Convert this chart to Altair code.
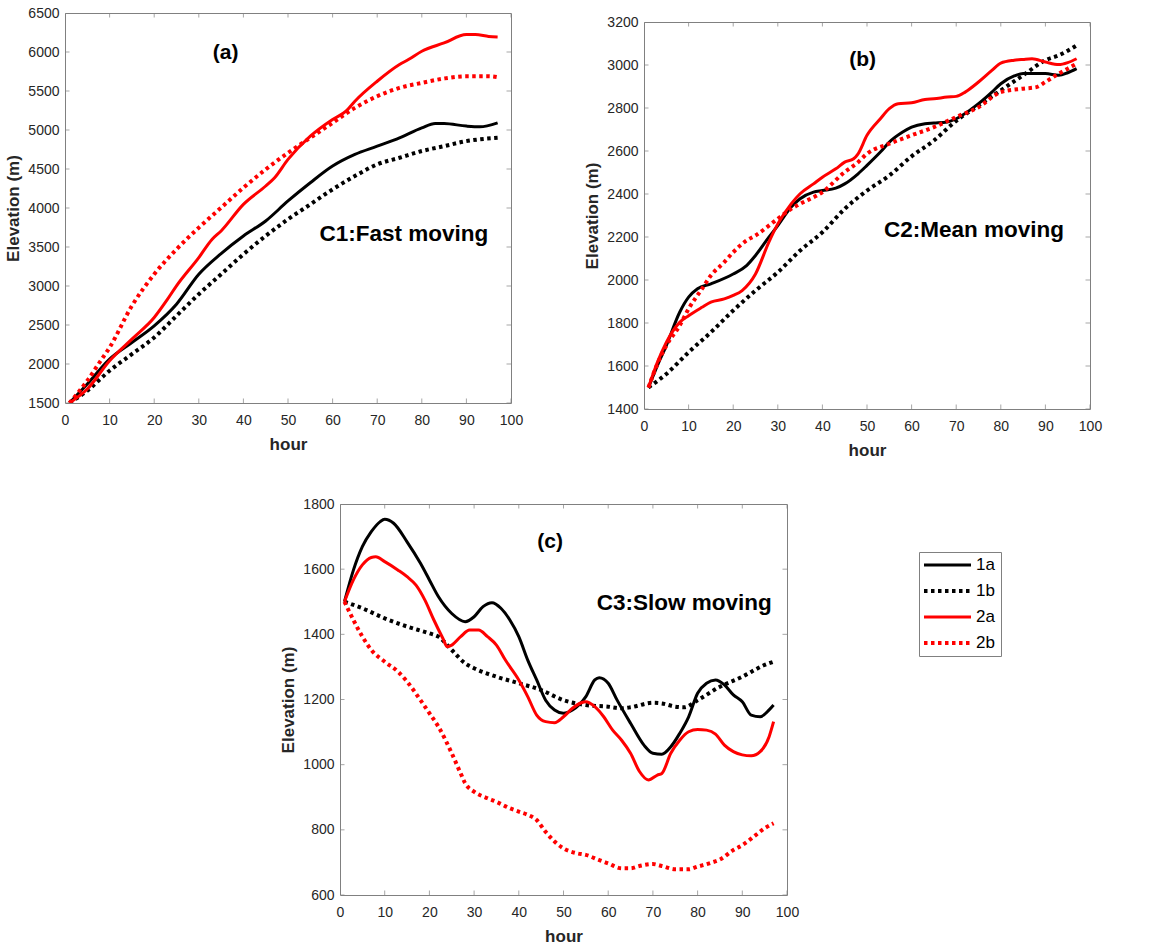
import altair as alt
import pandas as pd

# ---------------- data ----------------
SERIES = ["1a", "1b", "2a", "2b"]
COLORS = ["#000000", "#000000", "#ff0000", "#ff0000"]

# panel (a) C1: Fast moving
a1a_h = [1, 5, 10, 15, 20, 25, 30, 35, 40, 45, 50, 55, 60, 65, 70, 75, 80, 83, 85, 90, 93, 97]
a1a_e = [1500, 1743, 2063, 2276, 2490, 2767, 3151, 3416, 3642, 3834, 4090, 4324, 4538, 4687, 4793, 4900, 5028, 5084, 5083, 5050, 5041, 5092]
a1b_h = [1, 5, 10, 15, 20, 25, 30, 35, 40, 45, 50, 55, 60, 65, 70, 75, 80, 85, 90, 97]
a1b_e = [1500, 1658, 1914, 2127, 2340, 2618, 2895, 3151, 3407, 3642, 3855, 4047, 4239, 4410, 4559, 4644, 4730, 4793, 4857, 4900]
a2a_h = [1, 5, 10, 15, 20, 23, 25, 30, 33, 35, 40, 45, 47, 50, 55, 60, 63, 65, 70, 75, 77, 80, 85, 90, 92, 95, 97]
a2a_e = [1500, 1679, 2042, 2319, 2596, 2831, 3002, 3364, 3599, 3706, 4047, 4282, 4388, 4623, 4921, 5135, 5241, 5369, 5625, 5839, 5903, 6010, 6116, 6223, 6223, 6200, 6193]
a2b_h = [1, 5, 8, 10, 15, 20, 25, 30, 35, 40, 45, 50, 55, 60, 65, 70, 75, 80, 85, 90, 95, 97]
a2b_e = [1500, 1786, 2042, 2212, 2746, 3151, 3471, 3748, 4004, 4260, 4495, 4708, 4900, 5092, 5284, 5433, 5540, 5604, 5660, 5689, 5689, 5677]

# panel (b) C2: Mean moving
b1a_h = [1, 3, 5, 8, 10, 12, 15, 20, 23, 25, 28, 30, 33, 35, 38, 40, 43, 45, 48, 50, 53, 55, 58, 60, 63, 65, 68, 70, 73, 75, 78, 80, 83, 85, 88, 90, 93, 95, 97]
b1a_e = [1500, 1602, 1695, 1850, 1920, 1959, 1982, 2028, 2067, 2114, 2199, 2253, 2339, 2378, 2409, 2416, 2427, 2447, 2494, 2533, 2595, 2641, 2688, 2711, 2727, 2730, 2735, 2750, 2789, 2820, 2874, 2913, 2949, 2960, 2960, 2960, 2952, 2964, 2983]
b1b_h = [1, 5, 10, 15, 20, 25, 30, 35, 40, 45, 50, 55, 60, 65, 70, 75, 80, 85, 90, 93, 97]
b1b_e = [1500, 1563, 1664, 1757, 1858, 1951, 2036, 2137, 2222, 2331, 2416, 2486, 2575, 2649, 2740, 2812, 2882, 2952, 3022, 3045, 3091]
b2a_h = [1, 3, 5, 8, 10, 13, 15, 18, 20, 22, 25, 28, 30, 33, 35, 38, 40, 43, 45, 47, 48, 50, 53, 55, 57, 60, 63, 65, 68, 70, 72, 75, 78, 80, 83, 85, 87, 90, 93, 95, 97]
b2a_e = [1500, 1617, 1710, 1803, 1834, 1873, 1897, 1912, 1928, 1951, 2028, 2176, 2261, 2354, 2401, 2447, 2478, 2517, 2548, 2564, 2587, 2673, 2750, 2797, 2820, 2824, 2840, 2843, 2851, 2854, 2874, 2921, 2975, 3009, 3022, 3026, 3029, 3014, 3002, 3011, 3029]
b2b_h = [1, 3, 5, 8, 10, 13, 15, 18, 20, 23, 25, 28, 30, 33, 35, 40, 45, 48, 50, 55, 60, 65, 70, 75, 80, 85, 88, 90, 93, 95, 97]
b2b_e = [1500, 1610, 1695, 1788, 1866, 1959, 2021, 2083, 2129, 2184, 2207, 2253, 2285, 2331, 2354, 2409, 2502, 2548, 2587, 2634, 2673, 2711, 2758, 2804, 2874, 2890, 2897, 2921, 2960, 2983, 3006]

# panel (c) C3: Slow moving
c1a_h = [1, 3, 5, 7, 9, 10, 12, 15, 18, 20, 22, 25, 28, 30, 32, 34, 36, 38, 40, 42, 44, 46, 48, 50, 52, 55, 57, 58, 60, 62, 65, 68, 70, 72, 74, 76, 78, 80, 82, 84, 86, 88, 90, 92, 94, 96, 97]
c1a_e = [1500, 1597, 1669, 1715, 1746, 1753, 1741, 1684, 1618, 1567, 1516, 1464, 1439, 1454, 1485, 1497, 1480, 1444, 1393, 1321, 1260, 1198, 1168, 1158, 1168, 1209, 1260, 1267, 1250, 1198, 1127, 1060, 1035, 1032, 1055, 1096, 1147, 1219, 1250, 1260, 1245, 1214, 1193, 1152, 1147, 1168, 1183]
c1b_h = [1, 5, 10, 15, 20, 22, 25, 28, 30, 35, 40, 45, 50, 55, 60, 63, 65, 70, 72, 75, 77, 80, 85, 90, 95, 97]
c1b_e = [1500, 1480, 1449, 1424, 1403, 1393, 1352, 1311, 1296, 1270, 1250, 1229, 1198, 1183, 1178, 1173, 1176, 1190, 1188, 1178, 1176, 1198, 1239, 1270, 1306, 1316]
c2a_h = [1, 3, 5, 7, 8, 10, 13, 15, 17, 19, 21, 23, 24, 25, 27, 29, 31, 33, 35, 37, 40, 42, 44, 46, 48, 50, 52, 54, 55, 57, 59, 61, 63, 65, 67, 69, 71, 72, 74, 76, 78, 80, 82, 84, 86, 88, 90, 92, 94, 96, 97]
c2a_e = [1500, 1567, 1613, 1636, 1638, 1623, 1597, 1577, 1551, 1505, 1444, 1388, 1362, 1367, 1393, 1413, 1413, 1393, 1367, 1321, 1260, 1209, 1152, 1132, 1129, 1147, 1173, 1190, 1193, 1178, 1147, 1106, 1075, 1035, 979, 953, 968, 973, 1035, 1075, 1101, 1108, 1106, 1094, 1060, 1040, 1030, 1027, 1040, 1086, 1132]
c2b_h = [1, 3, 5, 7, 10, 13, 15, 18, 20, 22, 25, 27, 28, 30, 33, 35, 38, 40, 42, 44, 46, 48, 50, 53, 55, 58, 60, 63, 65, 67, 70, 72, 75, 78, 80, 83, 85, 88, 90, 93, 95, 97]
c2b_e = [1500, 1444, 1393, 1352, 1316, 1285, 1255, 1198, 1158, 1117, 1035, 973, 943, 917, 897, 886, 866, 856, 846, 830, 794, 764, 743, 728, 723, 707, 697, 682, 682, 689, 695, 689, 679, 679, 687, 699, 709, 738, 753, 784, 805, 820]

x_ticks = [0, 10, 20, 30, 40, 50, 60, 70, 80, 90, 100]
a_yticks = [1500, 2000, 2500, 3000, 3500, 4000, 4500, 5000, 5500, 6000, 6500]
b_yticks = [1400, 1600, 1800, 2000, 2200, 2400, 2600, 2800, 3000, 3200]
c_yticks = [600, 800, 1000, 1200, 1400, 1600, 1800]

# ---------------- styling ----------------
FONT = "Liberation Sans"
FRAME = "#808080"
TXT = "#262626"


def long_df(pairs):
    rows = []
    for name, (hs, es) in zip(SERIES, pairs):
        for h, e in zip(hs, es):
            rows.append({"series": name, "hour": h, "elev": e})
    return pd.DataFrame(rows)


def panel(df, yticks, label, label_pos, note, note_pos, w, h):
    ymin, ymax = yticks[0], yticks[-1]
    xs = alt.Scale(domain=[0, 100], nice=False, zero=False)
    ys = alt.Scale(domain=[ymin, ymax], nice=False, zero=False)
    color = alt.Color("series:N", scale=alt.Scale(domain=SERIES, range=COLORS), legend=None)
    xenc = alt.X("hour:Q", scale=xs,
                 axis=alt.Axis(values=x_ticks, format="d", title="hour", labelPadding=10, titlePadding=9))
    yenc = alt.Y("elev:Q", scale=ys,
                 axis=alt.Axis(values=yticks, format="d", title="Elevation (m)", labelPadding=6, titlePadding=5))
    layers = []
    for s in SERIES:
        dotted = s.endswith("b")
        m = alt.Chart(df).transform_filter(alt.datum.series == s)
        if dotted:
            m = m.mark_line(strokeWidth=4, strokeDash=[3.5, 3.5], strokeCap="butt",
                            interpolate="monotone", clip=True)
        else:
            m = m.mark_line(strokeWidth=3, interpolate="monotone", clip=True)
        layers.append(m.encode(x=xenc, y=yenc, color=color))

    # inward ticks on all four sides (half of each tick is clipped by the frame)
    n_x, n_y = len(x_ticks), len(yticks)
    xt_lo = pd.DataFrame({"hour": x_ticks, "elev": [ymin] * n_x})
    xt_hi = pd.DataFrame({"hour": x_ticks, "elev": [ymax] * n_x})
    yt_lo = pd.DataFrame({"hour": [0] * n_y, "elev": yticks})
    yt_hi = pd.DataFrame({"hour": [100] * n_y, "elev": yticks})
    for d in (xt_lo, xt_hi):
        layers.append(alt.Chart(d).mark_tick(orient="vertical", size=9, thickness=1, color=FRAME, clip=True)
                      .encode(x=xenc, y=yenc))
    for d in (yt_lo, yt_hi):
        layers.append(alt.Chart(d).mark_tick(orient="horizontal", size=9, thickness=1, color=FRAME, clip=True)
                      .encode(x=xenc, y=yenc))

    ann = pd.DataFrame({"t": [label, note],
                        "hour": [label_pos[0], note_pos[0]],
                        "elev": [label_pos[1], note_pos[1]],
                        "fs": [21, 22.5]})
    layers.append(alt.Chart(ann).mark_text(font=FONT, fontWeight="bold", color="#000000",
                                           align="center", baseline="middle")
                  .encode(x=xenc, y=yenc, text="t:N", size=alt.Size("fs:Q", scale=None, legend=None)))
    return alt.layer(*layers).properties(width=w, height=h)


def spacer(w, h):
    return (alt.Chart(pd.DataFrame({"v": [0]})).mark_point(opacity=0, size=1)
            .properties(width=w, height=h, view=alt.ViewBackground(strokeOpacity=0)))


pa = panel(long_df([(a1a_h, a1a_e), (a1b_h, a1b_e), (a2a_h, a2a_e), (a2b_h, a2b_e)]),
           a_yticks, "(a)", (36, 5990), "C1:Fast moving", (76, 3670), 446, 390)
pb = panel(long_df([(b1a_h, b1a_e), (b1b_h, b1b_e), (b2a_h, b2a_e), (b2b_h, b2b_e)]),
           b_yticks, "(b)", (49, 3023), "C2:Mean moving", (74, 2233), 446, 387)
pc = panel(long_df([(c1a_h, c1a_e), (c1b_h, c1b_e), (c2a_h, c2a_e), (c2b_h, c2b_e)]),
           c_yticks, "(c)", (47, 1683), "C3:Slow moving", (77, 1496), 447, 391)

# legend box
leg_df = pd.DataFrame({"series": SERIES})
ly = alt.Y("series:N", scale=alt.Scale(type="point", domain=SERIES, padding=0.5), axis=None)
lcolor = alt.Color("series:N", scale=alt.Scale(domain=SERIES, range=COLORS), legend=None)
leg_layers = []
for s in SERIES:
    base = alt.Chart(leg_df).transform_filter(alt.datum.series == s)
    if s.endswith("b"):
        r = base.mark_rule(strokeWidth=4, strokeDash=[3.5, 3.5], strokeCap="butt")
    else:
        r = base.mark_rule(strokeWidth=3)
    leg_layers.append(r.encode(x=alt.value(5), x2=alt.value(52), y=ly, color=lcolor))
leg_layers.append(alt.Chart(leg_df).mark_text(font=FONT, fontSize=17, align="left", baseline="middle",
                                              color="#000000")
                  .encode(x=alt.value(57), y=ly, text="series:N"))
legend = alt.layer(*leg_layers).properties(width=82, height=104)

top = alt.hconcat(pa, alt.vconcat(spacer(446, 1), pb, spacing=0), spacing=59)
bottom = alt.hconcat(spacer(96, 1), pc, alt.vconcat(spacer(82, 47), legend, spacing=0), spacing=118)

chart = (alt.vconcat(top, bottom, spacing=37)
         .properties(padding={"left": 4, "top": 5, "right": 5, "bottom": 0})
         .configure_view(stroke=FRAME, strokeWidth=1)
         .configure_axis(labelFont=FONT, labelFontSize=14, labelColor=TXT,
                         titleFont=FONT, titleFontSize=17, titleFontWeight="bold", titleColor=TXT,
                         grid=False, domain=False, ticks=False, tickSize=0,
                         labelFlush=False, labelOverlap=False)
         .configure_text(font=FONT))

chart.save("out.html", embed_options={"renderer": "svg", "actions": False})
